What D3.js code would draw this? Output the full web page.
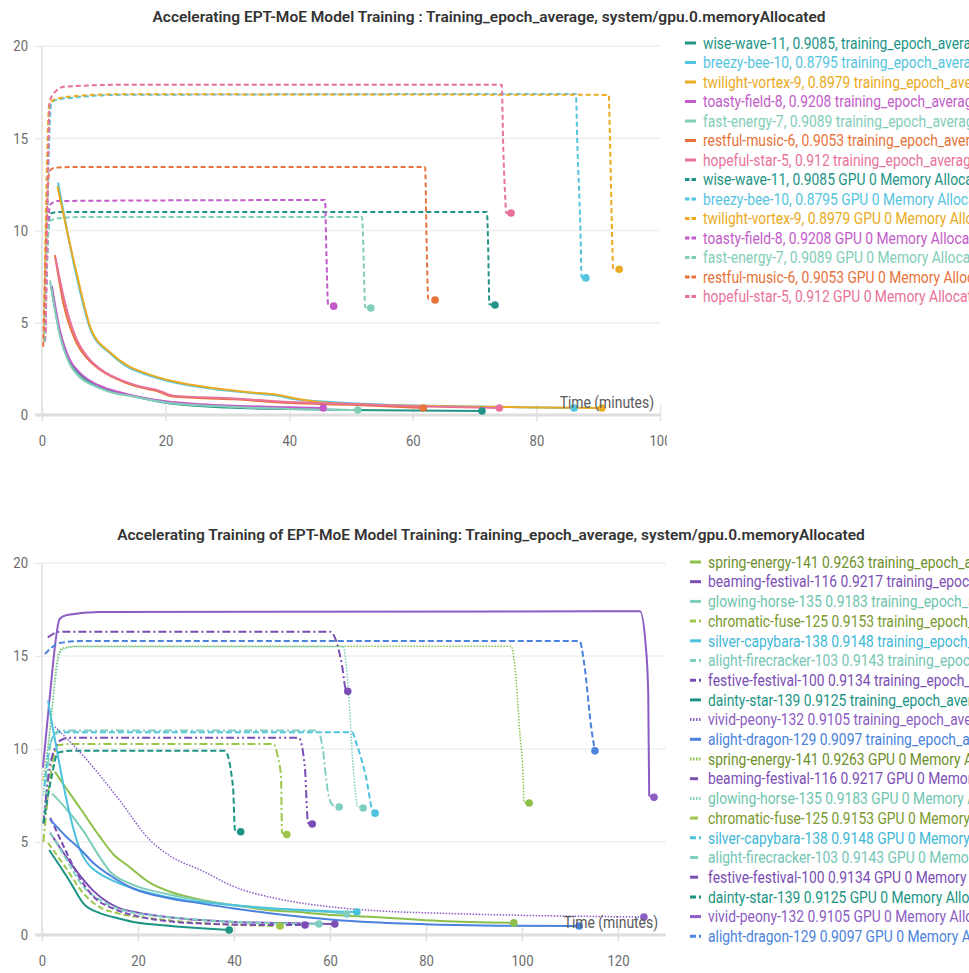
<!DOCTYPE html>
<html>
<head>
<meta charset="utf-8">
<script src="https://cdn.jsdelivr.net/npm/d3@7"></script>
<style>
body { margin: 0; background: #fff; }
svg text { font-family: "Roboto", "Noto Sans", sans-serif; }
</style>
</head>
<body>
<svg id="chart" width="969" height="973"></svg>
<script>
/* EPT-MoE training runs: loss + GPU memory, two panels */

// ---------- top panel data ----------
const topRuns = ["wise-wave-11", "breezy-bee-10", "twilight-vortex-9", "toasty-field-8",
  "fast-energy-7", "restful-music-6", "hopeful-star-5"];
const topScores = ["0.9085", "0.8795", "0.8979", "0.9208", "0.9089", "0.9053", "0.912"];
const topColors = ["#229487", "#55c4df", "#eaaa21", "#c35bc9", "#82cdb8", "#e6733a", "#e8729a"];

// training_epoch_average, [minutes, value]
const wiseWaveLoss = [[1.5,6.9],[2.9,4.4],[4.5,2.9],[6.1,2.2],[8.3,1.68],[11,1.32],[14.8,1.02],[20,0.66],[30,0.4],[40,0.32],[50,0.27],[60,0.24],[71.2,0.22]];
const breezyBeeLoss = [[2.6,12.6],[5.6,7.5],[8,4.5],[11,3.35],[13.9,2.6],[16.4,2.25],[21.8,1.73],[28,1.4],[34.2,1.18],[38,1.05],[41,0.85],[46,0.72],[50,0.64],[60,0.52],[70,0.46],[80,0.41],[86.1,0.38]];
const twilightVortexLoss = [[2.5,12.4],[5.6,7.7],[8,4.6],[11,3.4],[14,2.65],[16.5,2.3],[22,1.77],[28,1.45],[34,1.22],[38,1.1],[41,0.9],[46,0.66],[50,0.6],[60,0.5],[70,0.45],[80,0.41],[90.6,0.38]];
const toastyFieldLoss = [[1.6,7.0],[2.9,4.6],[4.5,3.0],[6.1,2.3],[8.3,1.75],[11,1.38],[14.8,1.05],[20,0.75],[25,0.6],[30,0.52],[40,0.42],[45.5,0.38]];
const fastEnergyLoss = [[1.3,7.3],[2.9,4.3],[4.5,2.75],[6.1,2.05],[8.3,1.6],[11,1.25],[14.8,1.0],[20,0.68],[30,0.45],[40,0.33],[51.1,0.27]];
const restfulMusicLoss = [[2.1,8.67],[3.5,6.0],[5.6,3.9],[7.5,3.0],[9.4,2.45],[13.7,1.73],[16.4,1.46],[18.6,1.3],[21.2,1.0],[31,0.85],[40,0.65],[50,0.55],[61.7,0.38]];
const hopefulStarLoss = [[2.2,8.5],[3.5,6.4],[5.6,4.1],[7.5,3.1],[9.4,2.5],[13.7,1.78],[16.4,1.5],[18.6,1.36],[21.2,1.05],[31,0.9],[40,0.7],[50,0.6],[60,0.48],[74,0.38]];

// GPU 0 memory allocated
const wiseWaveMem = [[0.4,4],[1.3,10.9],[2.5,11.0],[72,11.0],[72.2,9],[72.4,6.0],[73.3,5.96]];
const breezyBeeMem = [[0.5,4],[1.5,16.9],[2.5,17.1],[5,17.2],[12,17.35],[86.4,17.4],[86.6,15],[87.2,9],[87.3,7.45],[88,7.43]];
const twilightVortexMem = [[0.3,4],[1.2,16.9],[2.5,17.15],[6,17.3],[12,17.38],[91.7,17.35],[91.9,15],[92.3,9],[92.4,7.9],[93.4,7.9]];
const toastyFieldMem = [[0.5,4],[1.3,11.4],[2.5,11.6],[45.8,11.65],[46,9],[46.3,5.95],[47.2,5.9]];
const fastEnergyMem = [[0.4,4],[1.2,10.5],[2.5,10.65],[6,10.73],[51.8,10.73],[52,9],[52.3,5.85],[53.2,5.8]];
const restfulMusicMem = [[0.2,3.7],[1.2,13.2],[2,13.4],[5,13.44],[62,13.44],[62.2,10],[62.5,6.3],[63.6,6.23]];
const hopefulStarMem = [[0.6,4.5],[1.3,17.07],[2.4,17.6],[3.7,17.8],[14,17.9],[74.4,17.9],[74.6,15],[75,11.5],[75.1,10.95],[75.9,10.95]];

const topLoss = [wiseWaveLoss, breezyBeeLoss, twilightVortexLoss, toastyFieldLoss, fastEnergyLoss, restfulMusicLoss, hopefulStarLoss];
const topMem = [wiseWaveMem, breezyBeeMem, twilightVortexMem, toastyFieldMem, fastEnergyMem, restfulMusicMem, hopefulStarMem];

// ---------- bottom panel data ----------
const botRuns = ["spring-energy-141", "beaming-festival-116", "glowing-horse-135", "chromatic-fuse-125",
  "silver-capybara-138", "alight-firecracker-103", "festive-festival-100", "dainty-star-139",
  "vivid-peony-132", "alight-dragon-129"];
const botScores = ["0.9263", "0.9217", "0.9183", "0.9153", "0.9148", "0.9143", "0.9134", "0.9125", "0.9105", "0.9097"];
const botColors = ["#8dc04a", "#7d4fb6", "#7fcdbb", "#9cc64a", "#4cc3de", "#80d0c0", "#7a4db5", "#1b9484", "#8b5cc4", "#4a82dd"];
const botTextColors = ["#6e8f2c", "#7d4fb6", "#6fc4b0", "#7a9a2e", "#3fb8d6", "#74c6b4", "#7a4db5", "#1b9484", "#8b5cc4", "#4a82dd"];
const botLossDash = [null, null, null, "6,3", null, "6,3", "6,3", null, "1.5,1.5", null];
const botMemDash = ["1.5,1.5", "8,3,2,3", "1.5,1.5", "8,3,2,3", "6,3", "8,3,2,3", "8,3,2,3,2,3", "6,3", null, "6,3"];

const springEnergyLoss = [[2.7,8.77],[5,7.9],[8,6.8],[12,5.3],[15,4.3],[17.7,3.76],[22.5,2.8],[27,2.3],[33,1.9],[40,1.6],[47,1.35],[55,1.2],[60.6,1.07],[69,0.97],[83,0.75],[98.3,0.65]];
const beamingFestivalLoss = [[1.7,5.5],[4,4.6],[7,3.5],[10.6,2.4],[15.6,1.5],[20,1.2],[26,0.97],[33,0.8],[40,0.7],[50,0.65],[61,0.59]];
const glowingHorseLoss = [[2.1,7.6],[5,6.8],[8.6,5.6],[12,4.2],[14.2,3.4],[18,2.8],[26,2.2],[33,1.85],[40,1.6],[50,1.38],[60.6,1.22],[63.5,1.13]];
const chromaticFuseLoss = [[1.25,4.95],[5,3.6],[8.6,2.25],[12,1.5],[16,1.15],[22.5,0.9],[30,0.7],[40,0.55],[49.6,0.48]];
const silverCapybaraLoss = [[1.25,12.6],[8.6,4.2],[10,3.7],[12,3.3],[15,2.9],[19,2.5],[26,2.05],[33,1.77],[40,1.6],[47,1.45],[55,1.33],[60.6,1.26],[65.6,1.24]];
const alightFirecrackerLoss = [[1.7,5.5],[5,4.1],[8.6,2.6],[12,1.9],[16,1.4],[20,1.15],[26,0.97],[35,0.78],[47,0.64],[57.7,0.59]];
const festiveFestivalLoss = [[1.7,6.3],[3,5.6],[5,4.5],[8,3.0],[11,2.0],[15,1.4],[20,1.0],[26,0.75],[35,0.6],[47,0.54],[54.8,0.54]];
const daintyStarLoss = [[1.5,4.57],[4,3.6],[6,2.8],[8.6,1.7],[12,1.18],[15,0.95],[19,0.7],[24,0.55],[29.4,0.43],[34,0.35],[39,0.27]];
const vividPeonyLoss = [[2.7,11.2],[9.4,9.4],[16,7.3],[22.5,5.1],[27,4.2],[33,3.5],[40,2.6],[50,1.9],[60.6,1.5],[70,1.3],[83,1.17],[104,1.04],[125.4,0.97]];
const alightDragonLoss = [[1.7,6.2],[5,5.3],[8,4.6],[11,3.8],[14.2,3.2],[19,2.5],[26,2.0],[33,1.7],[40,1.42],[47,1.18],[55,0.95],[60.6,0.82],[69,0.68],[83,0.55],[95,0.5],[111.9,0.48]];

const springEnergyMem = [[0.2,8.3],[1.7,11],[3,14.5],[4.1,15.4],[7.2,15.53],[97.7,15.53],[98.5,14.5],[99.5,11],[100.3,8],[100.4,7.15],[101.5,7.1]];
const beamingFestivalMem = [[1.2,16.0],[3.7,16.3],[60,16.3],[61,16.0],[62.5,14.5],[63.3,13.2],[63.7,13.1]];
const glowingHorseMem = [[0.3,7.5],[2,12],[4,15.3],[7,15.5],[62.7,15.5],[63.8,13.3],[64.8,9.1],[65.8,6.9],[66.9,6.83]];
const chromaticFuseMem = [[0.3,5],[2,9],[3.3,10.2],[6,10.27],[48.1,10.27],[49.2,9.5],[49.8,8.5],[50,5.5],[51,5.4]];
const silverCapybaraMem = [[0.5,8],[2,10.5],[3.5,10.9],[64.6,10.9],[65.5,10.3],[67.5,8.5],[69,6.6],[69.4,6.55]];
const alightFirecrackerMem = [[0.5,6.5],[2,10.5],[3.7,11.0],[57.5,11.0],[58.5,10],[59.5,7.8],[60.5,7.0],[61.9,6.88]];
const festiveFestivalMem = [[0.3,6],[2,9.5],[4.1,10.5],[6,10.6],[53.5,10.6],[54.8,8.9],[55.3,6.3],[55.5,6.0],[56.3,5.97]];
const daintyStarMem = [[0.3,6.0],[2,8.5],[3.3,9.8],[6,9.9],[38.1,9.9],[39.8,7.95],[40.2,5.65],[41.4,5.55]];
const vividPeonyMem = [[0.2,9.0],[1.5,12.5],[3.7,17.0],[5.2,17.2],[12,17.37],[124.6,17.4],[125.8,15.5],[126.3,13],[126.5,7.5],[127.5,7.4]];
const alightDragonMem = [[0.6,15.1],[3.7,15.7],[8,15.8],[112,15.8],[113,14.5],[114.5,11],[115.2,9.9]];

const botLoss = [springEnergyLoss, beamingFestivalLoss, glowingHorseLoss, chromaticFuseLoss, silverCapybaraLoss,
  alightFirecrackerLoss, festiveFestivalLoss, daintyStarLoss, vividPeonyLoss, alightDragonLoss];
const botMem = [springEnergyMem, beamingFestivalMem, glowingHorseMem, chromaticFuseMem, silverCapybaraMem,
  alightFirecrackerMem, festiveFestivalMem, daintyStarMem, vividPeonyMem, alightDragonMem];

const yTicks = [0, 5, 10, 15, 20];

const svg = d3.select("#chart");

// reference font is a condensed face: squeeze Roboto horizontally
const SQUEEZE = 0.87;
const LEG_SQUEEZE = 0.85;

function drawPanel(p, idx) {
  const x = d3.scaleLinear().domain([0, p.xMax]).range([42, p.right]);
  const y = d3.scaleLinear().domain([0, 20]).range([p.bottom, p.top]);
  const g = svg.append("g");

  // clip for the tick labels (panel edge cuts the last label)
  svg.append("clipPath").attr("id", "clip" + idx)
    .append("rect").attr("x", 0).attr("y", p.top - 30).attr("width", p.clipRight).attr("height", p.bottom - p.top + 80);

  // title
  g.append("text")
    .attr("x", p.titleX).attr("y", p.titleY)
    .attr("text-anchor", "middle")
    .attr("font-size", 15.5).attr("font-weight", 600).attr("fill", "#333")
    .text(p.title);

  // y grid + labels
  const yAxis = g.append("g").attr("transform", "translate(42,0)")
    .call(d3.axisLeft(y).tickValues(yTicks).tickSize(7).tickPadding(7));
  yAxis.select(".domain").remove();
  yAxis.selectAll(".tick line").attr("stroke", "#e8e8e8").attr("stroke-width", 1.5);
  yAxis.selectAll(".tick text").attr("font-size", 15).attr("fill", "#6b6b6b")
    .attr("transform", `scale(${SQUEEZE},1)`).attr("x", -14 / SQUEEZE);
  g.selectAll(".hgrid").data(yTicks.filter(d => d > 0)).join("line")
    .attr("x1", 42).attr("x2", p.right)
    .attr("y1", d => y(d)).attr("y2", d => y(d))
    .attr("stroke", "#efefef").attr("stroke-width", 1.5);
  g.append("line")
    .attr("x1", 42).attr("x2", 42).attr("y1", p.top).attr("y2", p.bottom)
    .attr("stroke", "#e6e6e6").attr("stroke-width", 2);

  // x axis
  const xAxis = g.append("g").attr("transform", `translate(0,${p.bottom})`)
    .call(d3.axisBottom(x).tickValues(p.xTicks).tickSize(6).tickPadding(14));
  xAxis.select(".domain").remove();
  xAxis.selectAll(".tick line").attr("y1", -10).attr("y2", 6).attr("stroke", "#e3e3e3").attr("stroke-width", 1.5);
  xAxis.selectAll(".tick text").attr("font-size", 15).attr("fill", "#6b6b6b")
    .attr("transform", `scale(${SQUEEZE},1)`);
  g.append("g").attr("clip-path", `url(#clip${idx})`).node().appendChild(xAxis.node());
  g.append("line")
    .attr("x1", 35).attr("x2", p.right).attr("y1", p.bottom).attr("y2", p.bottom)
    .attr("stroke", "#dedede").attr("stroke-width", 3);

  const line = d3.line()
    .x(d => x(d[0])).y(d => y(d[1]))
    .curve(d3.curveMonotoneX);

  // series: memory first (drawn under), then losses
  const series = [];
  p.mem.forEach((s, i) => series.push({ pts: s, color: p.colors[i], dash: p.memDash[i], w: p.memW[i] }));
  p.loss.forEach((s, i) => series.push({ pts: s, color: p.colors[i], dash: p.lossDash[i], w: p.lossW[i] }));

  g.selectAll(".series").data(series).join("path")
    .attr("fill", "none")
    .attr("stroke", d => d.color)
    .attr("stroke-width", d => d.w)
    .attr("stroke-dasharray", d => d.dash)
    .attr("stroke-linejoin", "round")
    .attr("d", d => line(d.pts));

  g.selectAll(".enddot").data(series).join("circle")
    .attr("cx", d => x(d.pts[d.pts.length - 1][0]))
    .attr("cy", d => y(d.pts[d.pts.length - 1][1]))
    .attr("r", 3.8)
    .attr("fill", d => d.color);

  // axis title inside plot
  g.append("text")
    .attr("transform", `translate(${p.xLabelX},${p.bottom - 7}) scale(${SQUEEZE},1)`)
    .attr("text-anchor", "end")
    .attr("font-size", 16).attr("fill", "#5a5a5a")
    .text("Time (minutes)");

  // legend
  const leg = g.selectAll(".leg").data(p.legend).join("g")
    .attr("transform", (d, i) => `translate(${p.legX},${p.legY + i * p.legStep})`);
  leg.append("line")
    .attr("x1", 0).attr("x2", 11).attr("y1", 0).attr("y2", 0)
    .attr("stroke", d => d.color).attr("stroke-width", d => d.w)
    .attr("stroke-dasharray", d => d.dash);
  leg.append("text")
    .attr("transform", `translate(18,0) scale(${LEG_SQUEEZE},1)`)
    .attr("dy", "0.35em")
    .attr("font-size", 16.3).attr("fill", d => d.textColor)
    .text(d => d.label);
}

// top panel
const topLegend = [];
topRuns.forEach((r, i) => topLegend.push({
  label: i === 0 ? `${r}, ${topScores[i]}, training_epoch_average` : `${r}, ${topScores[i]} training_epoch_average`,
  color: topColors[i], textColor: topColors[i], dash: null, w: 3 }));
topRuns.forEach((r, i) => topLegend.push({
  label: `${r}, ${topScores[i]} GPU 0 Memory Allocated (%)`,
  color: topColors[i], textColor: topColors[i], dash: "4.5,2", w: 3 }));

drawPanel({
  title: "Accelerating EPT-MoE Model Training : Training_epoch_average, system/gpu.0.memoryAllocated",
  titleX: 489, titleY: 22,
  top: 46, bottom: 415, right: 660, xMax: 100, clipRight: 667,
  xTicks: [0, 20, 40, 60, 80, 100], xLabelX: 654,
  loss: topLoss, mem: topMem, colors: topColors,
  lossDash: topRuns.map(() => null), memDash: topRuns.map(() => "5,3"),
  lossW: topRuns.map(() => 2), memW: topRuns.map(() => 2),
  legend: topLegend, legX: 685, legY: 43, legStep: 19.5
}, 0);

// bottom panel
const botLegend = [];
botRuns.forEach((r, i) => botLegend.push({
  label: `${r} ${botScores[i]} training_epoch_average`,
  color: botColors[i], textColor: botTextColors[i], dash: botLossDash[i], w: 3 }));
botRuns.forEach((r, i) => botLegend.push({
  label: `${r} ${botScores[i]} GPU 0 Memory Allocated (%)`,
  color: botColors[i], textColor: botTextColors[i], dash: botMemDash[i], w: 3 }));

drawPanel({
  title: "Accelerating Training of EPT-MoE Model Training: Training_epoch_average, system/gpu.0.memoryAllocated",
  titleX: 491, titleY: 540,
  top: 563, bottom: 935, right: 666, xMax: 130, clipRight: 969,
  xTicks: [0, 20, 40, 60, 80, 100, 120], xLabelX: 658,
  loss: botLoss, mem: botMem, colors: botColors,
  lossDash: botLossDash, memDash: botMemDash,
  lossW: botRuns.map((r, i) => botLossDash[i] === "1.5,1.5" ? 1.5 : 2),
  memW: botRuns.map((r, i) => botMemDash[i] === "1.5,1.5" ? 1.5 : 2),
  legend: botLegend, legX: 690, legY: 562, legStep: 19.7
}, 1);
</script>
</body>
</html>
